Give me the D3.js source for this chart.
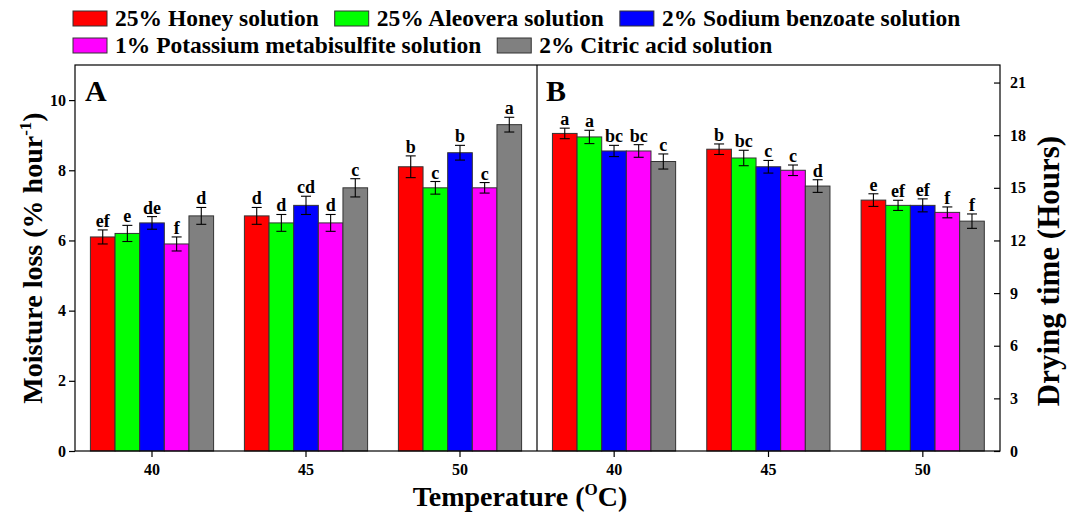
<!DOCTYPE html>
<html>
<head>
<meta charset="utf-8">
<script src="https://cdn.jsdelivr.net/npm/d3@7"></script>
<style>
  body { margin: 0; background: #fff; }
  text { font-family: "Liberation Serif", "Times New Roman", serif; font-weight: bold; fill: #000; }
</style>
</head>
<body>
<svg id="chart" width="1072" height="512"></svg>
<script>
// categories
const temps = ["40", "45", "50"];
const seriesNames = ["25% Honey solution", "25% Aleovera solution", "2% Sodium benzoate solution",
                     "1% Potassium metabisulfite solution", "2% Citric acid solution"];
const seriesColors = ["#ff0000", "#00ff00", "#0000ff", "#ff00ff", "#808080"];

// panel A: moisture loss (% per hour), one row per temperature
const moistureLoss = [[6.1, 6.2, 6.5, 5.9, 6.7], [6.7, 6.5, 7.0, 6.5, 7.5], [8.1, 7.5, 8.5, 7.5, 9.3]];
const moistureErr = [[0.2, 0.23, 0.18, 0.2, 0.24], [0.24, 0.24, 0.26, 0.24, 0.26], [0.31, 0.18, 0.21, 0.15, 0.21]];
const moistureLetters = [["ef", "e", "de", "f", "d"], ["d", "d", "cd", "d", "c"], ["b", "c", "b", "c", "a"]];

// panel B: drying time (hours)
const dryingTime = [[18.1, 17.9, 17.1, 17.1, 16.5], [17.2, 16.7, 16.2, 16.0, 15.1], [14.3, 14.0, 14.0, 13.6, 13.1]];
const dryingErr = [[0.3, 0.38, 0.32, 0.36, 0.43], [0.3, 0.44, 0.36, 0.3, 0.36], [0.36, 0.29, 0.37, 0.31, 0.41]];
const dryingLetters = [["a", "a", "bc", "bc", "c"], ["b", "bc", "c", "c", "d"], ["e", "ef", "ef", "f", "f"]];

const leftTicks = [0, 2, 4, 6, 8, 10];
const rightTicks = [0, 3, 6, 9, 12, 15, 18, 21];

const svg = d3.select("#chart");

const plot = {left: 75, mid: 537, right: 1000, top: 65, bottom: 451};

const yLeft = d3.scaleLinear().domain([0, 11]).range([plot.bottom, plot.top]);
const yRight = d3.scaleLinear().domain([0, 22]).range([plot.bottom, plot.top]);

const xA = d3.scaleBand().domain(temps).range([plot.left, plot.mid]).paddingInner(0.2).paddingOuter(0.1);
const xB = d3.scaleBand().domain(temps).range([plot.mid, plot.right]).paddingInner(0.2).paddingOuter(0.1);
const xSub = d3.scaleBand().domain(d3.range(seriesNames.length)).range([0, xA.bandwidth()]);

function drawPanel(x, y, values, errs, letters) {
  const g = svg.append("g");
  const groups = g.selectAll("g.grp")
    .data(temps)
    .join("g")
      .attr("class", "grp")
      .attr("transform", d => `translate(${x(d)},0)`);

  const rows = (d, i) => values[i].map((v, j) => ({v: v, e: errs[i][j], l: letters[i][j], j: j}));

  groups.selectAll("rect")
    .data(rows)
    .join("rect")
      .attr("x", d => xSub(d.j))
      .attr("y", d => y(d.v))
      .attr("width", xSub.bandwidth())
      .attr("height", d => y(0) - y(d.v))
      .attr("fill", d => seriesColors[d.j])
      .attr("stroke", "#333")
      .attr("stroke-width", 1);

  const eb = groups.selectAll("g.err")
    .data(rows)
    .join("g")
      .attr("class", "err")
      .attr("transform", d => `translate(${xSub(d.j) + xSub.bandwidth() / 2},0)`);
  eb.append("line")
    .attr("y1", d => y(d.v + d.e)).attr("y2", d => y(d.v - d.e))
    .attr("stroke", "#000").attr("stroke-width", 1.1);
  eb.append("line")
    .attr("x1", -5).attr("x2", 5)
    .attr("y1", d => y(d.v + d.e)).attr("y2", d => y(d.v + d.e))
    .attr("stroke", "#000").attr("stroke-width", 1.1);
  eb.append("line")
    .attr("x1", -5).attr("x2", 5)
    .attr("y1", d => y(d.v - d.e)).attr("y2", d => y(d.v - d.e))
    .attr("stroke", "#000").attr("stroke-width", 1.1);
  eb.append("text")
    .attr("y", d => y(d.v + d.e) - 3)
    .attr("text-anchor", "middle")
    .attr("font-size", "18px")
    .text(d => d.l);

  // x axis ticks under group centres
  const ax = d3.axisBottom(x).tickSize(6).tickPadding(4).tickSizeOuter(0);
  const axG = svg.append("g")
    .attr("transform", `translate(0,${plot.bottom})`)
    .call(ax);
  axG.select(".domain").remove();
  axG.selectAll("line").attr("stroke", "#000").attr("stroke-width", 1.2);
  axG.selectAll("text").attr("font-size", "16px").attr("font-family", null).attr("dy", "0.85em");
}

drawPanel(xA, yLeft, moistureLoss, moistureErr, moistureLetters);
drawPanel(xB, yRight, dryingTime, dryingErr, dryingLetters);

// frame
svg.append("rect")
  .attr("x", plot.left).attr("y", plot.top)
  .attr("width", plot.right - plot.left).attr("height", plot.bottom - plot.top)
  .attr("fill", "none").attr("stroke", "#000").attr("stroke-width", 1.2);
svg.append("line")
  .attr("x1", plot.mid).attr("x2", plot.mid).attr("y1", plot.top).attr("y2", plot.bottom)
  .attr("stroke", "#000").attr("stroke-width", 1.2);

// y axes
const yAxisL = svg.append("g")
  .attr("transform", `translate(${plot.left},0)`)
  .call(d3.axisLeft(yLeft).tickValues(leftTicks).tickSize(6).tickPadding(3));
const yAxisR = svg.append("g")
  .attr("transform", `translate(${plot.right},0)`)
  .call(d3.axisRight(yRight).tickValues(rightTicks).tickSize(-6).tickPadding(10));
[yAxisL, yAxisR].forEach(a => {
  a.select(".domain").remove();
  a.selectAll("line").attr("stroke", "#000").attr("stroke-width", 1.2);
  a.selectAll("text").attr("font-size", "16px").attr("font-family", null);
});

// panel letters
svg.append("text").attr("x", 85).attr("y", 101).attr("font-size", "30px").text("A");
svg.append("text").attr("x", 546).attr("y", 101).attr("font-size", "30px").text("B");

// axis titles
const xt = svg.append("text")
  .attr("x", 520).attr("y", 506)
  .attr("text-anchor", "middle")
  .attr("font-size", "28px");
xt.append("tspan").text("Temperature (");
xt.append("tspan").attr("font-size", "17px").attr("dy", -11).text("O");
xt.append("tspan").attr("dy", 11).text("C)");

const yl = svg.append("text")
  .attr("transform", "translate(42,258) rotate(-90)")
  .attr("text-anchor", "middle")
  .attr("font-size", "28px");
yl.append("tspan").text("Moisture loss (% hour");
yl.append("tspan").attr("font-size", "17px").attr("dy", -11).text("-1");
yl.append("tspan").attr("dy", 11).text(")");

svg.append("text")
  .attr("transform", "translate(1059,271) rotate(-90)")
  .attr("text-anchor", "middle")
  .attr("font-size", "31px")
  .text("Drying time (Hours)");

// legend, two rows
const legendRows = [[0, 1, 2], [3, 4]];
const legendY = [11, 38];
legendRows.forEach((row, r) => {
  let cx = 73;
  row.forEach(i => {
    const lg = svg.append("g").attr("transform", `translate(${cx},${legendY[r]})`);
    lg.append("rect")
      .attr("width", 34).attr("height", 15)
      .attr("fill", seriesColors[i]).attr("stroke", "#333").attr("stroke-width", 1);
    const t = lg.append("text")
      .attr("x", 42).attr("y", 15)
      .attr("font-size", "23.5px")
      .text(seriesNames[i]);
    cx += 42 + t.node().getComputedTextLength() + 16;
  });
});
</script>
</body>
</html>
